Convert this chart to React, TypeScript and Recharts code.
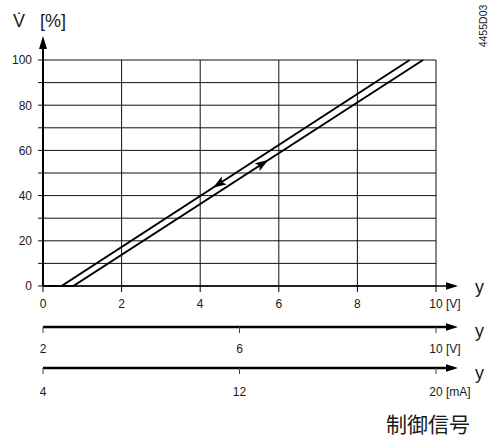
import React from 'react';
import { ComposedChart, Line, XAxis, YAxis, CartesianGrid, ReferenceLine } from 'recharts';

// ---- data ----
const upperLine = [
  { x: 0, y: 0 },
  { x: 0.47, y: 0 },
  { x: 9.33, y: 100 },
];
const lowerLine = [
  { x: 0, y: 0 },
  { x: 0.77, y: 0 },
  { x: 9.67, y: 100 },
];
// direction arrows on the lines: [from, to(tip)]
const upperArrow = [
  { x: 4.62, y: 46.8 },
  { x: 4.33, y: 43.6 },
];
const lowerArrow = [
  { x: 5.45, y: 52.6 },
  { x: 5.73, y: 55.7 },
];
const voltTicks = [0, 2, 4, 6, 8, 10];
const volt2Ticks = [2, 6, 10];
const mATicks = [4, 12, 20];
const pctTicks = [0, 10, 20, 30, 40, 50, 60, 70, 80, 90, 100];
const pctLabelStep = 20;
const voltUnit = '[V]';
const mAUnit = '[mA]';
const yAxisSymbol = 'V\u0307';
const yAxisUnit = '[%]';
const axisSymbol = 'y';
const signalLabel = '制御信号';
const docCode = '4455D03';

// invisible carriers so that the secondary scales get their domains
const volt2Carrier = volt2Ticks.map((v) => ({ xb: v, y: 0 }));
const mACarrier = mATicks.map((v) => ({ xc: v, y: 0 }));

const FONT = '"Liberation Sans", Arial, sans-serif';
const TXT = '#1a1a1a';

const makeXTick = (dy: number, lastValue: number, unit: string) => (props: any) => {
  const { x, y, payload } = props;
  const v = payload.value;
  return (
    <g>
      <text x={x} y={y + dy} textAnchor="middle" fontSize={12} fontFamily={FONT} fill={TXT}>
        {String(v)}
      </text>
      {v === lastValue ? (
        <text x={x + 10} y={y + dy} textAnchor="start" fontSize={12} fontFamily={FONT} fill={TXT}>
          {unit}
        </text>
      ) : null}
    </g>
  );
};

const YTick = (props: any) => {
  const { x, y, payload } = props;
  if (payload.value % pctLabelStep !== 0) return <g />;
  return (
    <text x={x} y={y + 4.3} textAnchor="end" fontSize={12} fontFamily={FONT} fill={TXT}>
      {String(payload.value)}
    </text>
  );
};

const ArrowHead = (props: any) => {
  const { x1, y1, x2, y2 } = props;
  const dx = x2 - x1;
  const dy = y2 - y1;
  const len = Math.sqrt(dx * dx + dy * dy) || 1;
  const ux = dx / len;
  const uy = dy / len;
  const nx = -uy;
  const ny = ux;
  const L = 13;
  const W = 4.6;
  const bx = x2 - ux * L;
  const by = y2 - uy * L;
  const notchX = x2 - ux * L * 0.8;
  const notchY = y2 - uy * L * 0.8;
  const d = `M${x2},${y2} L${bx + nx * W},${by + ny * W} L${notchX},${notchY} L${bx - nx * W},${by - ny * W} Z`;
  return <path d={d} fill="#000" stroke="none" />;
};

export default function App() {
  return (
    <div style={{ position: 'absolute', left: 0, top: 0, width: 499, height: 438, background: '#fff' }}>
      <svg width={0} height={0} style={{ position: 'absolute' }}>
        <defs>
          <marker id="arrX" markerUnits="userSpaceOnUse" markerWidth={40} markerHeight={20} refX={0} refY={0} orient="auto" overflow="visible" style={{ overflow: 'visible' }}>
            <line x1={0} y1={0} x2={12} y2={0} stroke="#000" strokeWidth={1.5} />
            <path d="M10,-3.8 L22,0 L10,3.8 Z" fill="#000" />
          </marker>
          <marker id="arrX2" markerUnits="userSpaceOnUse" markerWidth={40} markerHeight={20} refX={0} refY={0} orient="auto" overflow="visible" style={{ overflow: 'visible' }}>
            <line x1={0} y1={0} x2={12} y2={0} stroke="#000" strokeWidth={2.5} />
            <path d="M10,-3.8 L22,0 L10,3.8 Z" fill="#000" />
          </marker>
          <marker id="arrY" markerUnits="userSpaceOnUse" markerWidth={40} markerHeight={40} refX={0} refY={0} orient="auto" overflow="visible" style={{ overflow: 'visible' }}>
            <line x1={0} y1={0} x2={-13} y2={0} stroke="#000" strokeWidth={2} />
            <path d="M-11,-4 L-24,0 L-11,4 Z" fill="#000" />
          </marker>
        </defs>
      </svg>
      <ComposedChart width={499} height={438} margin={{ top: 60, right: 63, bottom: 30, left: 0 }}>
        <CartesianGrid xAxisId="a" yAxisId="p" stroke="#111" strokeWidth={1} />
        <XAxis
          xAxisId="a"
          type="number"
          dataKey="x"
          domain={[0, 10]}
          ticks={voltTicks}
          interval={0}
          height={41}
          tickSize={6}
          axisLine={{ stroke: '#000', strokeWidth: 1.5, markerEnd: 'url(#arrX)' }}
          tickLine={{ stroke: '#000', strokeWidth: 1 }}
          tick={makeXTick(14.3, 10, voltUnit)}
        />
        <XAxis
          xAxisId="b"
          type="number"
          dataKey="xb"
          domain={[2, 10]}
          allowDataOverflow
          ticks={volt2Ticks}
          interval={0}
          height={41}
          tickSize={6}
          axisLine={{ stroke: '#000', strokeWidth: 2.5, markerEnd: 'url(#arrX2)' }}
          tickLine={{ stroke: '#444', strokeWidth: 1 }}
          tick={makeXTick(17.5, 10, voltUnit)}
        />
        <XAxis
          xAxisId="c"
          type="number"
          dataKey="xc"
          domain={[4, 20]}
          allowDataOverflow
          ticks={mATicks}
          interval={0}
          height={40}
          tickSize={6}
          axisLine={{ stroke: '#000', strokeWidth: 2.5, markerEnd: 'url(#arrX2)' }}
          tickLine={{ stroke: '#444', strokeWidth: 1 }}
          tick={makeXTick(20.3, 20, mAUnit)}
        />
        <YAxis
          yAxisId="p"
          type="number"
          domain={[0, 100]}
          ticks={pctTicks}
          interval={0}
          width={43}
          tickSize={5}
          tickMargin={6}
          axisLine={{ stroke: '#000', strokeWidth: 2, markerStart: 'url(#arrY)' }}
          tickLine={{ stroke: '#111', strokeWidth: 1 }}
          tick={YTick}
        />
        <Line xAxisId="b" yAxisId="p" data={volt2Carrier} dataKey="y" type="linear" stroke="none" strokeWidth={0} dot={false} activeDot={false} isAnimationActive={false} />
        <Line xAxisId="c" yAxisId="p" data={mACarrier} dataKey="y" type="linear" stroke="none" strokeWidth={0} dot={false} activeDot={false} isAnimationActive={false} />
        <Line xAxisId="a" yAxisId="p" data={upperLine} dataKey="y" type="linear" stroke="#000" strokeWidth={2} dot={false} activeDot={false} isAnimationActive={false} />
        <Line xAxisId="a" yAxisId="p" data={lowerLine} dataKey="y" type="linear" stroke="#000" strokeWidth={2} dot={false} activeDot={false} isAnimationActive={false} />
        <ReferenceLine xAxisId="a" yAxisId="p" segment={upperArrow} shape={ArrowHead} />
        <ReferenceLine xAxisId="a" yAxisId="p" segment={lowerArrow} shape={ArrowHead} />
      </ComposedChart>
      <svg width={499} height={438} style={{ position: 'absolute', left: 0, top: 0, pointerEvents: 'none' }}>
        <text x={13} y={27.3} fontSize={18} fontFamily={FONT} fill={TXT}>
          <tspan>{yAxisSymbol}</tspan>
          <tspan x={40}>{yAxisUnit}</tspan>
        </text>
        <text x={475} y={292.5} fontSize={18} fontFamily={FONT} fill={TXT}>{axisSymbol}</text>
        <text x={475} y={336.5} fontSize={18} fontFamily={FONT} fill={TXT}>{axisSymbol}</text>
        <text x={475} y={379} fontSize={18} fontFamily={FONT} fill={TXT}>{axisSymbol}</text>
        <text x={386} y={431.5} fontSize={21} fontFamily={'"Noto Sans CJK JP", sans-serif'} fill={TXT}>{signalLabel}</text>
        <text transform="translate(487,26) rotate(-90)" textAnchor="middle" fontSize={10.5} fontFamily={FONT} fill={TXT}>{docCode}</text>
      </svg>
    </div>
  );
}
